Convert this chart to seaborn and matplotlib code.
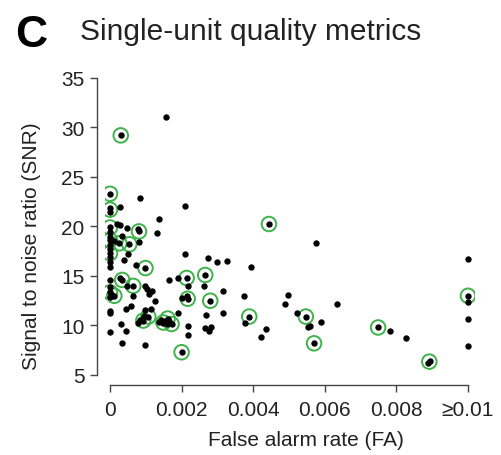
import numpy as np
import pandas as pd
import matplotlib
matplotlib.use("Agg")
import matplotlib.pyplot as plt
import seaborn as sns

# ---- data (FA in units of 1e-3 as read; converted below) ----
fa_all_e3 = [1.56, 0.30, 0.0, 0.84, 0.28, 2.10, 0.0, 0.0, 1.38, 0.0,
             0.19, 0.28, 0.47, 0.77, 0.81, 1.30, 0.0, 0.33, 0.0, 0.0,
             0.11, 0.26, 0.54, 0.82, 0.0, 0.0, 0.0, 0.49, 0.0, 0.40,
             0.0, 0.73, 0.0, 0.99, 2.10, 2.73, 3.00, 3.26, 3.95, 2.66,
             2.14, 1.65, 1.90, 0.0, 0.34, 0.28, 0.65, 0.48, 0.98, 1.04,
             1.16, 0.0, 0.0, 0.12, 0.05, 0.65, 1.10, 1.26, 0.0, 2.17,
             2.00, 2.14, 2.19, 2.80, 2.63, 3.16, 3.75, 4.96, 4.90, 6.35,
             0.0, 0.0, 0.44, 0.59, 0.93, 1.07, 0.98, 1.14, 0.77, 0.30,
             0.0, 0.45, 0.34, 0.98, 1.49, 1.61, 1.72, 1.37, 1.55, 1.90,
             2.17, 2.17, 2.00, 2.67, 3.16, 3.89, 3.77, 5.22, 5.47, 5.89,
             5.52, 5.59, 5.70, 4.35, 4.22, 2.66, 2.77, 2.82, 4.44, 5.75,
             10.0, 10.0, 10.0, 10.0, 10.0, 7.49, 7.81, 8.26, 8.88, 8.95,
             0.85, 0.95, 1.42, 1.60, 1.66]
snr_all = [31.1, 29.2, 23.3, 22.85, 22.0, 22.1, 21.9, 21.5, 20.8, 19.9,
           20.25, 20.1, 19.8, 19.75, 19.5, 19.3, 19.4, 19.0, 18.9, 18.6,
           18.5, 18.3, 18.2, 18.4, 18.1, 17.7, 17.3, 17.2, 16.9, 16.6,
           16.4, 16.1, 15.9, 15.8, 17.2, 16.8, 16.45, 16.5, 15.9, 15.1,
           14.8, 14.6, 14.8, 14.6, 14.6, 14.8, 14.0, 13.96, 14.0, 13.7,
           13.5, 13.86, 13.35, 13.0, 13.1, 13.0, 13.2, 12.5, 12.85, 12.7,
           12.8, 13.0, 14.0, 12.5, 13.96, 13.45, 13.0, 13.05, 12.2, 12.2,
           11.5, 11.3, 11.67, 12.0, 10.5, 10.9, 11.6, 11.67, 10.25, 10.15,
           9.3, 9.4, 8.2, 8.05, 10.3, 10.7, 10.15, 10.4, 10.5, 11.3,
           9.9, 9.0, 7.3, 11.1, 11.3, 10.9, 10.25, 11.3, 10.9, 10.4,
           9.8, 9.97, 8.2, 9.65, 8.8, 9.7, 9.4, 9.8, 20.25, 18.3,
           16.7, 13.0, 12.35, 10.7, 7.9, 9.8, 9.45, 8.7, 6.25, 6.45,
           10.6, 11.0, 10.6, 10.2, 10.5]

fa_sel_e3 = [0.30, 0.0, 0.0, 0.0, 0.81, 0.0, 0.26, 0.54, 0.0, 0.99,
             0.34, 0.65, 0.0, 0.12, 2.14, 2.66, 2.17, 2.80, 0.93, 1.07,
             1.49, 1.61, 1.72, 2.00, 4.44, 3.89, 5.47, 5.70, 7.49, 8.92,
             10.0]
snr_sel = [29.2, 23.3, 21.7, 19.9, 19.5, 18.6, 18.3, 18.2, 17.3, 15.8,
           14.6, 14.0, 13.35, 13.0, 14.8, 15.1, 12.7, 12.5, 10.5, 10.9,
           10.3, 10.7, 10.15, 7.3, 20.25, 10.9, 10.9, 8.2, 9.8, 6.35,
           13.0]

x_ticks = [0, 0.002, 0.004, 0.006, 0.008, 0.01]
x_ticklabels = ["0", "0.002", "0.004", "0.006", "0.008", "\u22650.01"]
y_ticks = [5, 10, 15, 20, 25, 30, 35]

fa_all = [v / 1000.0 for v in fa_all_e3]
fa_sel = [v / 1000.0 for v in fa_sel_e3]
df_all = pd.DataFrame({"FA": fa_all, "SNR": snr_all})
df_sel = pd.DataFrame({"FA": fa_sel, "SNR": snr_sel})

sns.set_style("ticks")
plt.rcParams["font.family"] = ["Liberation Sans", "DejaVu Sans"]

W, H = 501, 456
fig = plt.figure(figsize=(W / 100, H / 100), dpi=100)
ax = fig.add_axes([105 / W, 1 - 381 / H, (475 - 105) / W, (381 - 74) / H])

green = "#3fb24a"
sns.scatterplot(data=df_sel, x="FA", y="SNR", ax=ax, s=110, color=green,
                linewidth=1.4, legend=False, zorder=2)
coll = ax.collections[-1]
coll.set_facecolor("none")
coll.set_edgecolor(green)
sns.scatterplot(data=df_all, x="FA", y="SNR", ax=ax, s=21, color="black",
                linewidth=0, legend=False, zorder=3)

ax.set_xlim(-0.00014, 0.010196)
ax.set_ylim(4.495, 35.5)
ax.set_xlabel("")
ax.set_ylabel("")

for s in ["top", "right"]:
    ax.spines[s].set_visible(False)
ax.spines["left"].set_position(("outward", 5.8))
ax.spines["bottom"].set_position(("outward", 3.6))
ax.spines["left"].set_bounds(5, 35)
ax.spines["bottom"].set_bounds(0, 0.01)
for s in ["left", "bottom"]:
    ax.spines[s].set_color("#444444")
    ax.spines[s].set_linewidth(1.0)

ax.set_xticks(x_ticks)
ax.set_xticklabels(x_ticklabels)
ax.set_yticks(y_ticks)
ax.tick_params(axis="both", direction="out", length=5, width=1.0,
               color="#444444", labelsize=15, labelcolor="#222222")
ax.tick_params(axis="y", pad=4)
ax.tick_params(axis="x", pad=6)

fig.text(15 / W, 1 - 47 / H, "C", fontsize=32, fontweight="bold",
         ha="left", va="baseline", color="black")
fig.text(80 / W, 1 - 40 / H, "Single-unit quality metrics", fontsize=21.5,
         ha="left", va="baseline", color="#222222")
fig.text(306 / W, 1 - 441 / H, "False alarm rate (FA)", fontsize=15,
         ha="center", va="center", color="#222222")
fig.text(32 / W, 1 - 246 / H, "Signal to noise ratio (SNR)", fontsize=15,
         ha="center", va="center", rotation=90, color="#222222")

fig.savefig("out.png", dpi=100)
